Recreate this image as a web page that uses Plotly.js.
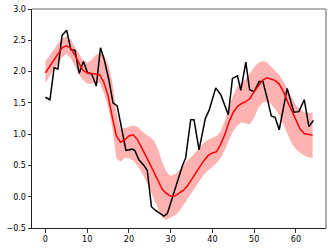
<!DOCTYPE html>
<html>
<head>
<meta charset="utf-8">
<script src="https://cdn.plot.ly/plotly-3.0.1.min.js"></script>
<style>
  html, body { margin: 0; padding: 0; background: #fff; }
  #chart { width: 332px; height: 248px; }
</style>
</head>
<body>
<div id="chart"></div>
<script>
const obsX = [0, 1.1, 2.1, 3.0, 4.0, 5.1, 6.1, 7.1, 8.1, 9.1, 10.1, 11.1, 12.2, 13.2, 14.1, 15.2,
  16.2, 17.2, 19.3, 20.8, 21.4, 22.4, 23.6, 24.4, 25.4, 26.4, 28.4, 29.2, 32.8, 33.6, 34.8,
  35.6, 36.8, 38.3, 39.2, 40.8, 42.0, 43.8, 44.8, 46.0, 46.8, 48.0, 48.9, 50.0, 51.2, 52.1,
  53.2, 54.1, 55.0, 56.0, 57.9, 59.5, 60.7, 62.0, 63.1, 64.2];
const obsY = [1.59, 1.55, 2.06, 2.04, 2.58, 2.66, 2.35, 2.34, 1.97, 2.16, 1.98, 1.96, 1.77, 2.38, 2.19, 1.87,
  1.50, 1.45, 0.74, 0.76, 0.74, 0.59, 0.50, 0.42, -0.16, -0.22, -0.31, -0.27, 0.49, 0.62, 1.23,
  1.23, 0.75, 1.25, 1.38, 1.74, 1.63, 1.31, 1.89, 1.93, 1.70, 2.15, 1.71, 1.68, 1.84, 1.84,
  1.55, 1.29, 1.27, 1.07, 1.73, 1.35, 1.36, 1.55, 1.12, 1.22];

// smoothed mean (red) and band edges, one value per x = 0..64
const xs = Array.from({length: 65}, (_, i) => i);
const meanY = [1.98, 2.08, 2.18, 2.28, 2.38, 2.41, 2.38, 2.27, 2.14, 2.02, 1.98, 1.97, 1.97, 1.95, 1.83, 1.62,
  1.28, 0.97, 0.87, 0.91, 0.97, 0.99, 0.92, 0.80, 0.66, 0.53, 0.39, 0.25, 0.12, 0.05,
  0.01, 0.01, 0.05, 0.10, 0.17, 0.28, 0.38, 0.48, 0.58, 0.66, 0.70, 0.72, 0.84, 1.00,
  1.20, 1.35, 1.44, 1.49, 1.52, 1.57, 1.68, 1.77, 1.86, 1.90, 1.88, 1.86, 1.80, 1.68,
  1.52, 1.38, 1.22, 1.08, 1.01, 0.99, 0.98];
const upperY = [2.16, 2.26, 2.36, 2.45, 2.53, 2.56, 2.52, 2.40, 2.28, 2.18, 2.14, 2.18, 2.26, 2.30, 2.27, 2.12,
  1.85, 1.35, 1.08, 1.10, 1.13, 1.14, 1.12, 1.06, 1.00, 0.96, 0.90, 0.76, 0.55, 0.40,
  0.33, 0.36, 0.42, 0.50, 0.58, 0.64, 0.72, 0.80, 0.87, 0.91, 0.94, 0.97, 1.05, 1.22,
  1.44, 1.62, 1.76, 1.83, 1.88, 1.97, 2.07, 2.14, 2.17, 2.15, 2.08, 2.02, 1.95, 1.84,
  1.72, 1.58, 1.46, 1.40, 1.35, 1.34, 1.34];
const lowerY = [1.82, 1.92, 2.02, 2.12, 2.23, 2.28, 2.22, 2.10, 1.96, 1.86, 1.81, 1.80, 1.83, 1.82, 1.66, 1.45,
  1.12, 0.62, 0.56, 0.62, 0.62, 0.58, 0.50, 0.40, 0.26, 0.13, -0.04, -0.20, -0.34, -0.37,
  -0.33, -0.30, -0.24, -0.14, -0.02, 0.08, 0.18, 0.27, 0.36, 0.42, 0.48, 0.54, 0.62, 0.75,
  0.91, 1.05, 1.14, 1.19, 1.17, 1.16, 1.26, 1.42, 1.50, 1.52, 1.48, 1.40, 1.30, 1.14,
  0.98, 0.85, 0.76, 0.70, 0.66, 0.63, 0.62];

const xTicks = [0, 10, 20, 30, 40, 50, 60];
const yTicks = [-0.5, 0.0, 0.5, 1.0, 1.5, 2.0, 2.5, 3.0];

const traces = [
  {x: xs, y: lowerY, mode: "lines", line: {width: 0}, hoverinfo: "skip", showlegend: false},
  {x: xs, y: upperY, mode: "lines", line: {width: 0}, fill: "tonexty",
   fillcolor: "rgba(255,0,0,0.3)", hoverinfo: "skip", showlegend: false},
  {x: obsX, y: obsY, mode: "lines", line: {color: "#000", width: 1.5}, showlegend: false},
  {x: xs, y: meanY, mode: "lines", line: {color: "#ff0000", width: 1.5}, showlegend: false}
];

const axisBase = {
  showgrid: false, zeroline: false, showline: true, mirror: false,
  linecolor: "#222", linewidth: 1,
  ticks: "outside", ticklen: 3.5, tickwidth: 0.8, tickcolor: "#000",
  tickfont: {family: "DejaVu Sans", size: 8, color: "#000"}
};

const layout = {
  width: 332, height: 248,
  margin: {l: 32, r: 6, t: 9, b: 20},
  paper_bgcolor: "#fff", plot_bgcolor: "#fff",
  showlegend: false,
  xaxis: Object.assign({}, axisBase, {range: [-3.2, 67.2], tickvals: xTicks}),
  yaxis: Object.assign({}, axisBase, {range: [-0.5, 3.0], tickvals: yTicks, tickformat: ".1f"}),
  // top and right frame edges come out lighter in the reference
  shapes: [
    {type: "line", xref: "paper", yref: "paper", x0: 0, x1: 1, y0: 1, y1: 1,
     line: {color: "#999", width: 1.6}},
    {type: "line", xref: "paper", yref: "paper", x0: 1, x1: 1, y0: 0, y1: 1,
     line: {color: "#999", width: 1.6}}
  ]
};

Plotly.newPlot("chart", traces, layout, {staticPlot: true, displayModeBar: false});
</script>
</body>
</html>
